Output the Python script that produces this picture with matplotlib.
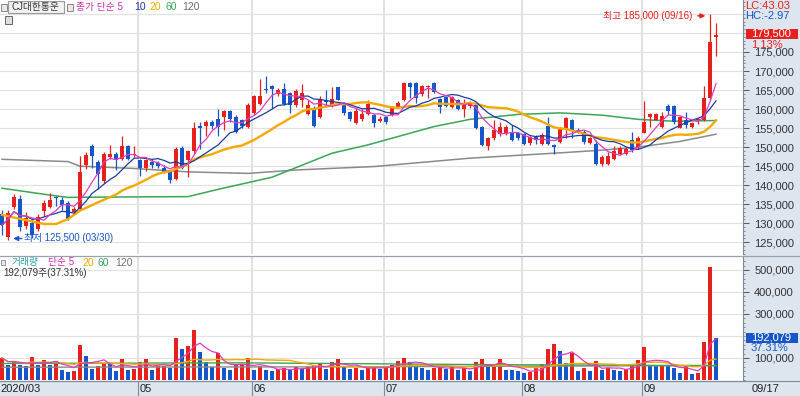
import numpy as np
import pandas as pd
import matplotlib
matplotlib.use('Agg')
import matplotlib.pyplot as plt
from matplotlib.patches import Rectangle
from matplotlib.ticker import FixedLocator, MultipleLocator

plt.rcParams['font.family'] = ['Liberation Sans', 'Noto Sans CJK KR', 'DejaVu Sans']

# ---------------- data (prices in thousand won, volume in thousand shares) ----------------
holidays = ['2020-04-15', '2020-04-30', '2020-05-01', '2020-05-05', '2020-08-17']
dates = pd.bdate_range('2020-03-27', '2020-09-17', freq='C', holidays=holidays)

opens = [132.5, 126.5, 134.3, 136.5, 129.3, 130.0, 128.4, 133.1, 134.4, 137.0,
         136.0, 135.4, 132.9, 133.8, 145.2, 150.2, 146.0, 141.2, 147.5, 148.3,
         146.9, 150.3, 147.9, 146.6, 144.4, 146.1, 145.8, 144.5, 143.5, 141.7,
         149.9, 146.5, 148.9, 155.6, 155.5, 156.5, 157.3, 158.0, 159.6, 158.0,
         157.0, 155.4, 158.9, 161.3, 165.4, 166.0, 164.0, 165.4, 164.1, 161.0,
         162.5, 158.7, 160.4, 157.9, 162.5, 161.0, 165.7, 161.6, 159.2, 156.4,
         157.3, 158.8, 158.4, 156.9, 157.8, 158.4, 160.6, 162.4, 166.9, 166.9,
         164.0, 165.8, 166.9, 162.6, 163.1, 160.5, 162.3, 160.0, 160.8, 161.0,
         155.3, 150.2, 152.3, 153.4, 153.8, 154.0, 153.6, 153.4, 151.0, 152.7,
         150.8, 155.6, 150.6, 151.3, 154.5, 157.0, 154.6, 154.0, 151.0, 150.8,
         145.5, 145.5, 146.8, 148.2, 148.2, 152.0, 150.0, 153.6, 157.9, 157.2,
         155.3, 160.9, 160.9, 154.9, 157.0, 155.3, 157.0, 157.1, 162.8, 179.0]
highs = [133.5, 133.5, 137.8, 137.5, 133.0, 131.3, 132.4, 136.2, 138.0, 137.2,
         136.8, 135.8, 134.2, 147.6, 148.8, 150.8, 146.5, 148.8, 150.5, 148.6,
         152.8, 150.5, 150.2, 147.0, 147.0, 147.0, 146.4, 145.2, 143.9, 150.0,
         150.2, 149.3, 156.7, 156.7, 157.2, 157.2, 160.0, 159.8, 159.8, 158.5,
         157.3, 161.5, 163.7, 168.0, 168.6, 166.3, 165.5, 166.9, 164.5, 165.2,
         166.7, 162.5, 160.7, 163.4, 164.9, 165.9, 165.9, 161.9, 159.6, 160.5,
         160.0, 162.3, 158.8, 158.2, 158.3, 160.8, 162.2, 167.2, 167.2, 167.2,
         166.4, 166.2, 167.2, 162.9, 163.5, 163.4, 162.7, 162.6, 162.2, 161.4,
         155.6, 152.7, 157.0, 156.6, 155.8, 155.8, 154.0, 153.8, 153.0, 153.1,
         153.8, 158.0, 150.9, 155.3, 157.9, 157.3, 155.0, 154.6, 152.6, 151.8,
         148.0, 148.6, 150.3, 150.2, 150.0, 154.0, 152.8, 162.0, 159.0, 159.0,
         159.1, 161.4, 161.2, 158.3, 159.1, 156.5, 157.7, 166.1, 185.0, 182.5]
lows = [127.0, 125.5, 133.8, 128.0, 128.5, 126.0, 127.9, 131.8, 134.0, 134.5,
        133.5, 130.8, 132.5, 133.5, 144.3, 144.5, 139.0, 140.5, 147.0, 143.9,
        146.5, 146.5, 147.4, 142.4, 143.6, 144.5, 144.6, 143.1, 140.7, 141.3,
        144.2, 142.2, 148.5, 149.5, 152.8, 154.8, 152.8, 154.6, 156.6, 153.6,
        154.9, 154.9, 158.4, 161.0, 164.2, 160.2, 163.5, 161.0, 158.9, 160.6,
        160.6, 158.4, 155.4, 157.6, 161.0, 160.6, 162.3, 158.4, 156.9, 156.2,
        156.9, 158.4, 155.3, 156.5, 156.0, 158.2, 160.2, 162.2, 162.8, 161.5,
        163.4, 162.9, 164.3, 159.0, 160.6, 160.3, 159.7, 158.0, 160.2, 154.8,
        150.4, 149.3, 151.9, 152.9, 153.2, 151.7, 151.9, 150.6, 150.6, 150.8,
        150.6, 150.6, 148.2, 151.0, 152.5, 152.3, 153.8, 150.8, 150.8, 145.2,
        145.0, 145.3, 146.5, 148.0, 148.0, 148.8, 149.6, 153.6, 155.2, 157.0,
        155.0, 158.4, 156.1, 154.9, 154.9, 155.0, 156.2, 156.9, 162.5, 174.0]
closes = [129.5, 132.6, 137.0, 129.0, 131.3, 127.0, 131.6, 135.3, 136.2, 136.6,
          134.8, 131.0, 133.8, 143.5, 148.0, 147.6, 143.0, 148.3, 148.3, 146.6,
          150.2, 146.9, 148.3, 144.5, 146.6, 145.2, 145.0, 143.5, 141.3, 149.6,
          144.5, 148.9, 155.0, 155.0, 156.7, 155.6, 155.4, 159.6, 157.3, 154.1,
          155.6, 161.0, 163.4, 163.4, 164.9, 165.2, 165.0, 161.3, 161.0, 164.8,
          164.1, 161.0, 155.6, 162.5, 161.9, 162.7, 162.5, 158.9, 157.3, 159.6,
          158.8, 161.4, 156.4, 157.5, 156.6, 160.4, 161.6, 166.9, 165.8, 162.8,
          166.0, 166.0, 164.6, 160.5, 160.8, 163.1, 160.0, 161.6, 161.6, 155.0,
          150.6, 152.3, 154.6, 155.2, 155.2, 151.9, 152.3, 150.8, 152.7, 151.9,
          153.2, 150.8, 150.0, 155.0, 157.6, 154.2, 154.2, 151.4, 152.3, 145.5,
          147.3, 147.6, 149.0, 149.8, 149.5, 149.3, 152.3, 156.6, 158.8, 158.8,
          158.3, 159.6, 156.6, 157.9, 155.7, 156.3, 157.3, 162.8, 177.5, 179.5]
volumes = [100, 67, 85, 67, 65, 104, 70, 90, 70, 85,
           47, 37, 40, 161, 108, 52, 62, 74, 72, 41,
           95, 45, 48, 82, 95, 47, 63, 64, 55, 190,
           142, 153, 226, 127, 82, 59, 121, 54, 44, 70,
           71, 100, 47, 62, 45, 40, 48, 55, 45, 60,
           50, 58, 70, 75, 50, 80, 95, 60, 50, 55,
           45, 60, 65, 50, 60, 70, 85, 100, 80, 70,
           55, 45, 55, 65, 50, 60, 45, 55, 40, 80,
           95, 60, 65, 97, 44, 43.5, 43, 33, 37, 54,
           74, 142, 165, 130, 79, 123, 42, 54, 41, 85,
           44, 54, 47, 41, 52, 74, 90, 150, 67, 66,
           67, 66, 54, 32, 62, 28, 32, 172, 514.8, 192.079]

ma20_head_idx = [0, 2, 5, 7, 9, 11, 13, 16]
ma20_head_val = [132.2, 131.5, 130.5, 129.8, 129.8, 131.1, 133.3, 135.5]
ma60_idx = [0, 8, 11, 19, 31, 36, 45, 55, 61, 72, 78, 86, 93, 100, 106, 112, 119]
ma60_val = [139.2, 137.4, 136.8, 136.9, 137.0, 138.9, 142.1, 148.4, 150.6, 155.4,
            157.3, 158.6, 159.0, 158.4, 157.3, 156.8, 157.0]
ma120_idx = [0, 11, 13, 22, 31, 41, 49, 62, 78, 93, 100, 106, 113, 119]
ma120_val = [146.8, 146.2, 145.0, 144.4, 143.5, 143.1, 144.0, 144.9, 147.1, 148.5,
             149.2, 150.0, 151.5, 153.4]
vma60_idx = [0, 40, 80, 119]
vma60_val = [75, 78, 70, 65]
vma120_idx = [0, 60, 119]
vma120_val = [58, 60, 66]

price_ticks = [125, 130, 135, 140, 145, 150, 155, 160, 165, 170, 175]
price_grid = [125, 130, 135, 140, 145, 150, 155, 160, 165, 170, 175, 180, 185]
vol_ticks = [100, 300, 400, 500]
vol_grid = [100, 200, 300, 400, 500]

# ---------------- derived ----------------
K = 1000
o = np.array(opens) * K
h = np.array(highs) * K
l = np.array(lows) * K
c = np.array(closes) * K
v = np.array(volumes) * K
n = len(c)
x = np.arange(n)
cs = pd.Series(c)
ma5 = cs.rolling(5, min_periods=1).mean()
ma10 = cs.rolling(10, min_periods=1).mean()
ma20 = cs.rolling(20).mean()
ma20_x = list(ma20_head_idx) + list(range(19, n))
ma20_y = list(np.array(ma20_head_val) * K) + list(ma20.iloc[19:])
vs = pd.Series(v)
vma5 = vs.rolling(5, min_periods=1).mean()
vma20 = vs.rolling(20, min_periods=1).mean()

RED = '#e6201c'
BLUE = '#1656c8'
C5, C10, C20, C60, C120 = '#e03cc0', '#1c3c9c', '#f2a900', '#3aa655', '#8a8a8a'
PANEL = '#dde5ef'

W, H = 800, 396
fig = plt.figure(figsize=(8, 3.96), dpi=100)


def fx(px):
    return px / W


def fy(py):
    return 1 - py / H


fig.patches.append(Rectangle((fx(743), 0), 1 - fx(743), 1, transform=fig.transFigure,
                             facecolor=PANEL, edgecolor='none', zorder=-5))

XL = (-2 / 6, (743 - 2) / 6)
ax = fig.add_axes([0, fy(254), fx(743), fy(0) - fy(254)])
axv = fig.add_axes([0, fy(380), fx(743), fy(257) - fy(380)])
axd = fig.add_axes([0, 0, fx(743), fy(381)])

month_starts = [i for i in range(1, n) if dates[i].month != dates[i - 1].month and dates[i].month >= 5]

for a in (ax, axv):
    a.set_xlim(*XL)
    for s in ('left', 'top', 'bottom'):
        a.spines[s].set_visible(False)
    a.spines['right'].set_color('#7f8a96')
    a.spines['right'].set_linewidth(0.8)
    a.yaxis.tick_right()
    a.tick_params(axis='y', direction='out', length=4, width=0.7, color='#555555',
                  labelsize=8, labelcolor='#333333', pad=4)
    a.tick_params(axis='y', which='minor', direction='out', length=1.5, width=0.6, color='#777777')
    a.set_xticks([])
    for m in month_starts:
        a.axvline(m - 0.4, color='#dcdcdc', lw=1.2, zorder=0)

# ---- price panel ----
ax.set_ylim(121926, 188654)
for p in price_grid:
    ax.axhline(p * K, color='#e2e2e2', lw=0.9, zorder=0)
ax.yaxis.set_major_locator(FixedLocator([t * K for t in price_ticks]))
ax.yaxis.set_minor_locator(MultipleLocator(1000))
ax.set_yticklabels([f'{t * K:,}' for t in price_ticks])

ax.plot(ma120_idx, np.array(ma120_val) * K, color=C120, lw=1.1, zorder=2)
ax.plot(ma60_idx, np.array(ma60_val) * K, color=C60, lw=1.1, zorder=2)

up = c >= o
cols = np.where(up, RED, BLUE)
ax.vlines(x, l, h, colors=cols, lw=0.9, zorder=3)
body_lo = np.minimum(o, c)
body_h = np.maximum(np.abs(c - o), 260)
ax.bar(x, body_h, bottom=body_lo, width=0.7, color=cols, edgecolor='none', zorder=4)

ax.plot(ma20_x, ma20_y, color=C20, lw=1.7, zorder=5)
ax.plot(x, ma10, color=C10, lw=0.9, zorder=5)
ax.plot(x, ma5, color=C5, lw=0.9, zorder=5)

imax = int(np.argmax(h))
imin = int(np.argmin(l))
ax.annotate('', xy=(imax - 0.3, h[imax] - 500), xytext=(imax - 2.5, h[imax] - 500),
            arrowprops=dict(arrowstyle='-|>', color=RED, lw=1.0, mutation_scale=7), zorder=6)
ax.text(imax - 2.9, h[imax] - 500, f'최고 {h[imax]:,.0f} ({dates[imax]:%m/%d})', color=RED,
        fontsize=7, ha='right', va='center', zorder=6)
ax.annotate('', xy=(imin + 0.4, l[imin] + 500), xytext=(imin + 2.8, l[imin] + 500),
            arrowprops=dict(arrowstyle='-|>', color=BLUE, lw=1.0, mutation_scale=7), zorder=6)
ax.text(imin + 2.6, l[imin] + 500, f'최저 {l[imin]:,.0f} ({dates[imin]:%m/%d})', color=BLUE,
        fontsize=7, ha='left', va='center', zorder=6)

# ---- volume panel ----
axv.set_ylim(0, 559000)
for t in vol_grid:
    axv.axhline(t * K, color='#e2e2e2', lw=0.9, zorder=0)
axv.yaxis.set_major_locator(FixedLocator([t * K for t in vol_ticks]))
axv.yaxis.set_minor_locator(MultipleLocator(20000))
axv.set_yticklabels([f'{t * K:,}' for t in vol_ticks])
vcols = [RED] + [RED if v[i] > v[i - 1] else BLUE for i in range(1, n)]
axv.bar(x, v, width=0.75, color=vcols, edgecolor='none', zorder=3)
axv.plot(vma120_idx, np.array(vma120_val) * K, color=C120, lw=1.0, zorder=4)
axv.plot(vma60_idx, np.array(vma60_val) * K, color=C60, lw=1.0, zorder=4)
axv.plot(x, vma20, color=C20, lw=1.0, zorder=4)
axv.plot(x, vma5, color=C5, lw=0.9, zorder=4)

# ---- date strip ----
axd.set_xlim(*XL)
axd.set_ylim(0, 1)
axd.set_facecolor(PANEL)
axd.set_xticks([])
axd.set_yticks([])
for s in ('left', 'right', 'bottom'):
    axd.spines[s].set_visible(False)
axd.spines['top'].set_color('#7f8a96')
axd.spines['top'].set_linewidth(0.8)
axd.text(-0.2, 0.45, f'{dates[0]:%Y/%m}', fontsize=8, color='#222222', va='center', ha='left')
for m in month_starts:
    axd.axvline(m - 0.4, color='#7f8a96', lw=0.8)
    axd.text(m - 0.1, 0.45, f'{dates[m]:%m}', fontsize=8, color='#222222', va='center', ha='left')
fig.text(fx(752), fy(389), f'{dates[-1]:%m/%d}', fontsize=8, color='#222222', va='center', ha='left')

# ---- panel separators ----
fig.add_artist(plt.Line2D([0, 1], [fy(255.5), fy(255.5)], transform=fig.transFigure,
                          color='#9aa3ad', lw=0.9))
fig.add_artist(plt.Line2D([0, 1], [fy(381), fy(381)], transform=fig.transFigure,
                          color='#7f8a96', lw=0.8))

# ---- legends (top) ----
fig.patches.append(Rectangle((fx(1), fy(11)), fx(6), fy(4) - fy(11), transform=fig.transFigure,
                             facecolor='#e8e8e8', edgecolor='#888888', lw=0.7))
fig.patches.append(Rectangle((fx(8), fy(12.5)), fx(56), fy(0.5) - fy(12.5), transform=fig.transFigure,
                             facecolor='#f2f2f2', edgecolor='#9a9a9a', lw=0.8))
fig.text(fx(11.5), fy(6.8), 'CJ대한통운', fontsize=7, color='#333333', va='center', ha='left')
fig.patches.append(Rectangle((fx(67), fy(11)), fx(6), fy(4) - fy(11), transform=fig.transFigure,
                             facecolor='#e8e8e8', edgecolor='#888888', lw=0.7))
fig.text(fx(76), fy(6.8), '종가 단순 5', fontsize=7, color='#d02aa8', va='center', ha='left')
fig.text(fx(134), fy(6.8), '10', fontsize=7.5, color=C10, va='center', ha='left')
fig.text(fx(149.5), fy(6.8), '20', fontsize=7.5, color=C20, va='center', ha='left')
fig.text(fx(165), fy(6.8), '60', fontsize=7.5, color=C60, va='center', ha='left')
fig.text(fx(182.5), fy(6.8), '120', fontsize=7.5, color='#707070', va='center', ha='left')
fig.patches.append(Rectangle((fx(5), fy(24)), fx(7), fy(16) - fy(24), transform=fig.transFigure,
                             facecolor='#dddddd', edgecolor='#666666', lw=0.7))

# volume legend
fig.patches.append(Rectangle((fx(1), fy(265)), fx(4), fy(260) - fy(265), transform=fig.transFigure,
                             facecolor='#e8e8e8', edgecolor='#888888', lw=0.6))
fig.text(fx(11.5), fy(262.5), '거래량', fontsize=7, color='#2aa0b0', va='center', ha='left')
fig.text(fx(48), fy(262.5), '단순 5', fontsize=7, color='#d02aa8', va='center', ha='left')
fig.text(fx(82), fy(262.5), '20', fontsize=7.5, color=C20, va='center', ha='left')
fig.text(fx(98), fy(262.5), '60', fontsize=7.5, color=C60, va='center', ha='left')
fig.text(fx(115), fy(262.5), '120', fontsize=7.5, color='#707070', va='center', ha='left')
vratio = v[-1] / v[-2] * 100
fig.text(fx(3), fy(273.5), f'{v[-1]:,.0f}주({vratio:.2f}%)', fontsize=7, color='#333333',
         va='center', ha='left')

# ---- right panel texts ----
fig.text(fx(745), fy(6), 'LC:43.03', fontsize=8, color=RED, va='center', ha='left')
fig.text(fx(745), fy(16), 'HC:-2.97', fontsize=8, color=BLUE, va='center', ha='left')
chg = (c[-1] / c[-2] - 1) * 100
fig.patches.append(Rectangle((fx(746), fy(39)), fx(52), fy(29) - fy(39), transform=fig.transFigure,
                             facecolor=RED, edgecolor='none', zorder=5))
fig.text(fx(751), fy(34), f'{c[-1]:,.0f}', fontsize=8, color='white', va='center', ha='left', zorder=6)
fig.text(fx(751), fy(44.5), f'{chg:.2f}%', fontsize=8, color=RED, va='center', ha='left', zorder=6)
fig.patches.append(Rectangle((fx(746), fy(342.5)), fx(52), fy(333) - fy(342.5), transform=fig.transFigure,
                             facecolor=BLUE, edgecolor='none', zorder=5))
fig.text(fx(751), fy(337.8), f'{v[-1]:,.0f}', fontsize=8, color='white', va='center', ha='left', zorder=6)
fig.text(fx(751), fy(348), f'{vratio:.2f}%', fontsize=8, color=BLUE, va='center', ha='left', zorder=6)

fig.savefig('out.png', dpi=100)
